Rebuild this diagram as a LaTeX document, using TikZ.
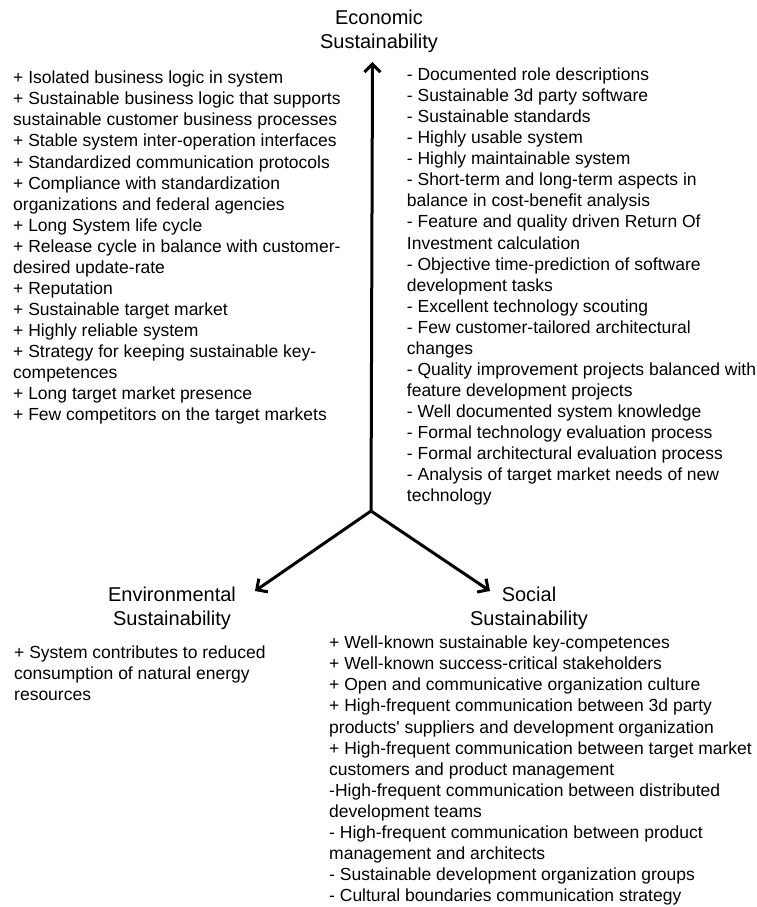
\documentclass[tikz,border=0pt]{standalone}
\usepackage{fontspec}
\setmainfont{Liberation Sans}
\usetikzlibrary{arrows.meta}
\newcommand{\straightapos}{\XeTeXglyph\XeTeXcharglyph"0027\relax}
\begin{document}
\begin{tikzpicture}[x=1pt,y=-1pt,
  body/.style={anchor=base west, align=left, inner sep=0pt, font=\fontsize{17.5}{21.07}\selectfont},
  head/.style={anchor=base, align=center, inner sep=0pt, font=\fontsize{20}{23.8}\selectfont},
  axis/.style={line width=3pt, -{Straight Barb[length=8pt,width=16pt]}}]
\useasboundingbox (0,0) rectangle (757,907);

\coordinate (o) at (371,511);
\coordinate (etip) at (372.5,62);
\coordinate (ltip) at (255,591);
\coordinate (rtip) at (490,591);

\draw[axis] (o) -- (etip);
\draw[axis] (o) -- (ltip);
\draw[axis] (o) -- (rtip);

% base anchor = baseline of the last line
\node[head] (econ) at (379,48.5) {Economic\\Sustainability};
\node[head] (env) at (172,625) {Environmental\\Sustainability};
\node[head] (soc) at (529,625) {Social\\Sustainability};

\node[body] (econplus) at (13,420.9) {+ Isolated business logic in system\\
+ Sustainable business logic that supports\\
sustainable customer business processes\\
+ Stable system inter-operation interfaces\\
+ Standardized communication protocols\\
+ Compliance with standardization\\
organizations and federal agencies\\
+ Long System life cycle\\
+ Release cycle in balance with customer-\\
desired update-rate\\
+ Reputation\\
+ Sustainable target market\\
+ Highly reliable system\\
+ Strategy for keeping sustainable key-\\
competences\\
+ Long target market presence\\
+ Few competitors on the target markets};

\node[body] (econminus) at (406.7,501.9) {- Documented role descriptions\\
- Sustainable 3d party software\\
- Sustainable standards\\
- Highly usable system\\
- Highly maintainable system\\
- Short-term and long-term aspects in\\
balance in cost-benefit analysis\\
- Feature and quality driven Return Of\\
Investment calculation\\
- Objective time-prediction of software\\
development tasks\\
- Excellent technology scouting\\
- Few customer-tailored architectural\\
changes\\
- Quality improvement projects balanced with\\
feature development projects\\
- Well documented system knowledge\\
- Formal technology evaluation process\\
- Formal architectural evaluation process\\
- Analysis of target market needs of new\\
technology};

\node[body] (envbody) at (14,700.3) {+ System contributes to reduced\\
consumption of natural energy\\
resources};

\node[body] (socbody) at (329,901.6) {+ Well-known sustainable key-competences\\
+ Well-known success-critical stakeholders\\
+ Open and communicative organization culture\\
+ High-frequent communication between 3d party\\
products\straightapos{} suppliers and development organization\\
+ High-frequent communication between target market\\
customers and product management\\
-High-frequent communication between distributed\\
development teams\\
- High-frequent communication between product\\
management and architects\\
- Sustainable development organization groups\\
- Cultural boundaries communication strategy};
\end{tikzpicture}
\end{document}
